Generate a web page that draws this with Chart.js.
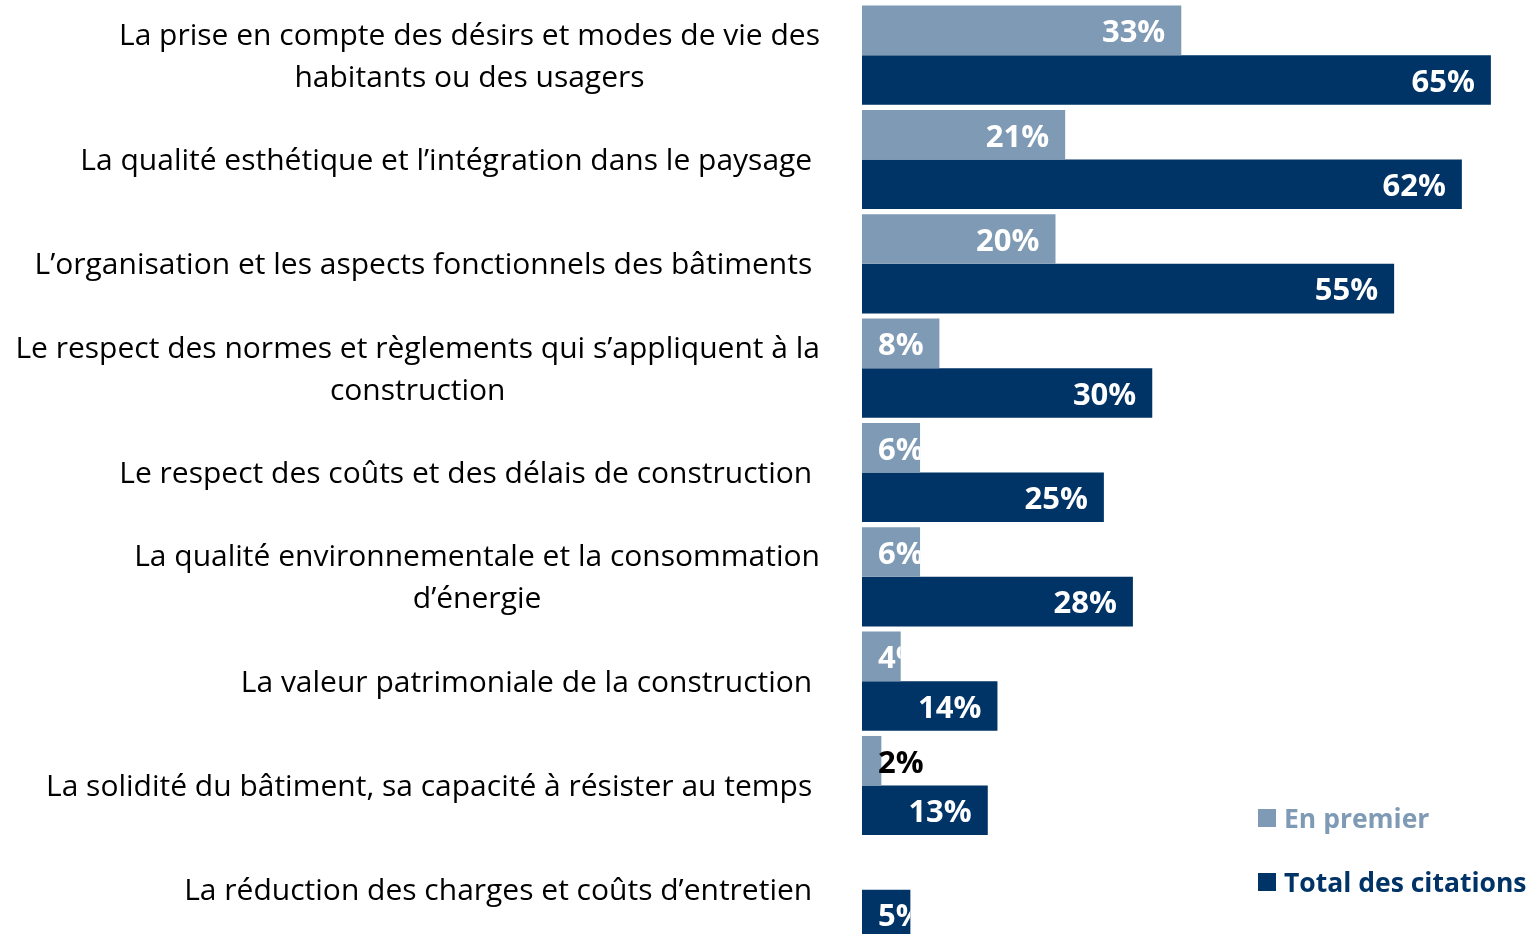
<!DOCTYPE html>
<html>
<head>
<meta charset="utf-8">
<script src="https://cdn.jsdelivr.net/npm/chart.js@4"></script>
<style>
  html, body { margin: 0; padding: 0; overflow: hidden; background: #fff; }
  #wrap { width: 1532px; height: 946px; position: relative; }
</style>
</head>
<body>
<div id="wrap"><canvas id="myChart"></canvas></div>
<script>
// Catégories (les libellés sur deux lignes sont des tableaux)
const categories = [
  ['La prise en compte des désirs et modes de vie des', 'habitants ou des usagers'],
  'La qualité esthétique et l’intégration dans le paysage ',
  'L’organisation et les aspects fonctionnels des bâtiments ',
  ['Le respect des normes et règlements qui s’appliquent à la', 'construction'],
  'Le respect des coûts et des délais de construction ',
  ['La qualité environnementale et la consommation', 'd’énergie'],
  'La valeur patrimoniale de la construction ',
  'La solidité du bâtiment, sa capacité à résister au temps ',
  'La réduction des charges et coûts d’entretien '
];

// Séries
const enPremier = [33, 21, 20, 8, 6, 6, 4, 2, null];
const totalCitations = [65, 62, 55, 30, 25, 28, 14, 13, 5];
const seriesNames = ['En premier', 'Total des citations'];

const lightBlue = '#7f9ab4';
const darkBlue = '#003366';

// Libellés des catégories : lignes centrées, bloc aligné à droite
const categoryLabels = {
  id: 'categoryLabels',
  afterDraw(chart) {
    const { ctx, chartArea, scales: { y } } = chart;
    const right = chartArea.left - 42;
    ctx.save();
    ctx.font = '30px "Open Sans"';
    ctx.fillStyle = '#000';
    ctx.textBaseline = 'middle';
    ctx.textAlign = 'center';
    categories.forEach((label, i) => {
      const lines = Array.isArray(label) ? label : [label];
      const w = Math.max(...lines.map(l => ctx.measureText(l).width));
      const cx = right - w / 2;
      const cy = y.getPixelForValue(i) + 2;
      lines.forEach((l, j) => {
        ctx.fillText(l, cx, cy + (j - (lines.length - 1) / 2) * 42);
      });
    });
    ctx.restore();
  }
};

// Valeurs dans les barres (coupées au bord de la barre comme dans Excel)
const valueLabels = {
  id: 'valueLabels',
  afterDatasetsDraw(chart) {
    const { ctx } = chart;
    ctx.save();
    ctx.font = 'bold 31px "Open Sans"';
    ctx.textBaseline = 'middle';
    ctx.textAlign = 'left';
    chart.data.datasets.forEach((ds, di) => {
      const meta = chart.getDatasetMeta(di);
      meta.data.forEach((bar, i) => {
        const v = ds.data[i];
        if (v == null) return;
        const txt = v + '%';
        const { x, y, base, height } = bar.getProps(['x', 'y', 'base', 'height'], true);
        const w = ctx.measureText(txt).width;
        const tx = Math.max(x - 16 - w, base + 16);
        const small = (x - base) < 25;
        ctx.save();
        if (!small) {
          ctx.beginPath();
          ctx.rect(base, y - height / 2, x - base, height);
          ctx.clip();
        }
        ctx.fillStyle = small ? '#000' : '#fff';
        ctx.fillText(txt, tx, y + 3);
        ctx.restore();
      });
    });
    ctx.restore();
  }
};

// Légende en bas à droite
const cornerLegend = {
  id: 'cornerLegend',
  afterDraw(chart) {
    const { ctx, chartArea } = chart;
    const x = chartArea.right - 274;
    const rows = [818, 882];
    ctx.save();
    ctx.font = 'bold 26.5px "Open Sans"';
    ctx.textBaseline = 'middle';
    ctx.textAlign = 'left';
    chart.data.datasets.forEach((ds, i) => {
      const yy = rows[i];
      ctx.fillStyle = ds.backgroundColor;
      ctx.fillRect(x, yy - 9, 18, 18);
      ctx.fillText(ds.label, x + 26, yy + 2);
    });
    ctx.restore();
  }
};

const ctx = document.getElementById('myChart').getContext('2d');

new Chart(ctx, {
  type: 'bar',
  data: {
    labels: categories,
    datasets: [
      { label: seriesNames[0], data: enPremier, backgroundColor: lightBlue },
      { label: seriesNames[1], data: totalCitations, backgroundColor: darkBlue }
    ]
  },
  options: {
    indexAxis: 'y',
    responsive: true,
    maintainAspectRatio: false,
    animation: false,
    categoryPercentage: 0.95,
    barPercentage: 1,
    layout: { padding: { left: 862, right: 0, top: 3, bottom: 4 } },
    plugins: {
      legend: { display: false },
      tooltip: { enabled: false }
    },
    scales: {
      x: { display: false, min: 0, max: 69.25 },
      y: { display: false }
    }
  },
  plugins: [categoryLabels, valueLabels, cornerLegend]
});
</script>
</body>
</html>
